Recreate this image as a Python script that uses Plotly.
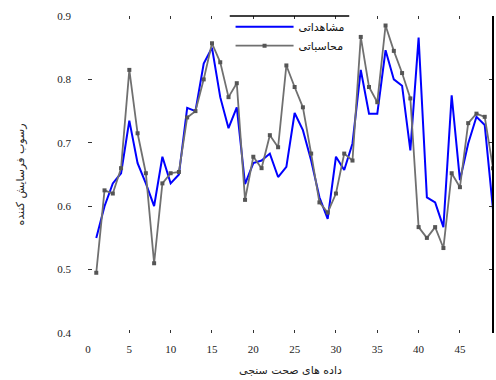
import plotly.graph_objects as go

# Data
sample_idx = list(range(1, 50))
observed = [0.55, 0.60, 0.636, 0.652, 0.735, 0.668, 0.636, 0.60, 0.678, 0.636,
            0.65, 0.755, 0.75, 0.825, 0.85, 0.772, 0.723, 0.756, 0.635, 0.668,
            0.672, 0.683, 0.646, 0.662, 0.747, 0.72, 0.672, 0.614, 0.58, 0.678,
            0.657, 0.699, 0.815, 0.746, 0.746, 0.846, 0.80, 0.79, 0.688, 0.866,
            0.614, 0.606, 0.567, 0.775, 0.641, 0.699, 0.741, 0.728, 0.595]
computed = [0.495, 0.625, 0.62, 0.66, 0.815, 0.715, 0.652, 0.51, 0.636, 0.652,
            0.654, 0.74, 0.75, 0.80, 0.857, 0.827, 0.772, 0.794, 0.61, 0.678,
            0.66, 0.712, 0.693, 0.822, 0.788, 0.756, 0.683, 0.606, 0.59, 0.62,
            0.683, 0.672, 0.867, 0.788, 0.764, 0.885, 0.845, 0.81, 0.77, 0.567,
            0.55, 0.567, 0.534, 0.652, 0.63, 0.731, 0.746, 0.741, 0.66]
x_ticks = [0, 5, 10, 15, 20, 25, 30, 35, 40, 45]
y_ticks = [0.4, 0.5, 0.6, 0.7, 0.8, 0.9]

name_obs = "مشاهداتی"
name_calc = "محاسباتی"
x_title = "داده های صحت سنجی"
y_title = "رسوب فرسایش کننده"

fig = go.Figure()
fig.add_trace(go.Scatter(x=sample_idx, y=observed, mode="lines", name=name_obs,
                         line=dict(color="#0000ff", width=2)))
fig.add_trace(go.Scatter(x=sample_idx, y=computed, mode="lines+markers", name=name_calc,
                         line=dict(color="#707070", width=1.8),
                         marker=dict(symbol="square", size=4, color="#555555")))

tick_font = dict(family="Liberation Serif", size=11, color="#222222")
fig.update_layout(
    width=496, height=380,
    margin=dict(l=88, r=3, t=16, b=47, autoexpand=False),
    paper_bgcolor="white", plot_bgcolor="white",
    showlegend=True,
    legend=dict(x=0.352, y=1.012, xanchor="left", yanchor="top",
                bgcolor="rgba(255,255,255,0)", borderwidth=0,
                font=dict(family="DejaVu Sans", size=11, color="#111111"),
                itemwidth=58, tracegroupgap=0),
    xaxis=dict(range=[0, 49], tickvals=x_ticks, ticks="inside", ticklen=3,
               tickcolor="#333333", mirror="ticks", showline=False, showgrid=False,
               zeroline=False, tickfont=tick_font, ticklabelstandoff=8, automargin=False,
               title=dict(text=x_title, font=dict(family="DejaVu Sans", size=11, color="#222222"),
                          standoff=12)),
    yaxis=dict(range=[0.4, 0.9], tickvals=y_ticks, tickformat=".1f", ticks="inside",
               ticklen=4, tickcolor="#333333", mirror="ticks", showline=False,
               showgrid=False, zeroline=False, tickfont=tick_font, ticklabelstandoff=16,
               automargin=False,
               title=dict(text=y_title, font=dict(family="DejaVu Sans", size=11, color="#222222"),
                          standoff=30)),
    shapes=[
        dict(type="line", xref="paper", yref="paper", x0=1, x1=1, y0=0, y1=1,
             line=dict(color="black", width=2)),
        dict(type="line", xref="paper", yref="paper", x0=0.35, x1=0.645, y0=1, y1=1,
             line=dict(color="black", width=1.5)),
    ],
)

fig.write_html("out.html", config={"displayModeBar": False},
               post_script="document.body.style.margin='0';document.body.style.overflow='hidden';")
